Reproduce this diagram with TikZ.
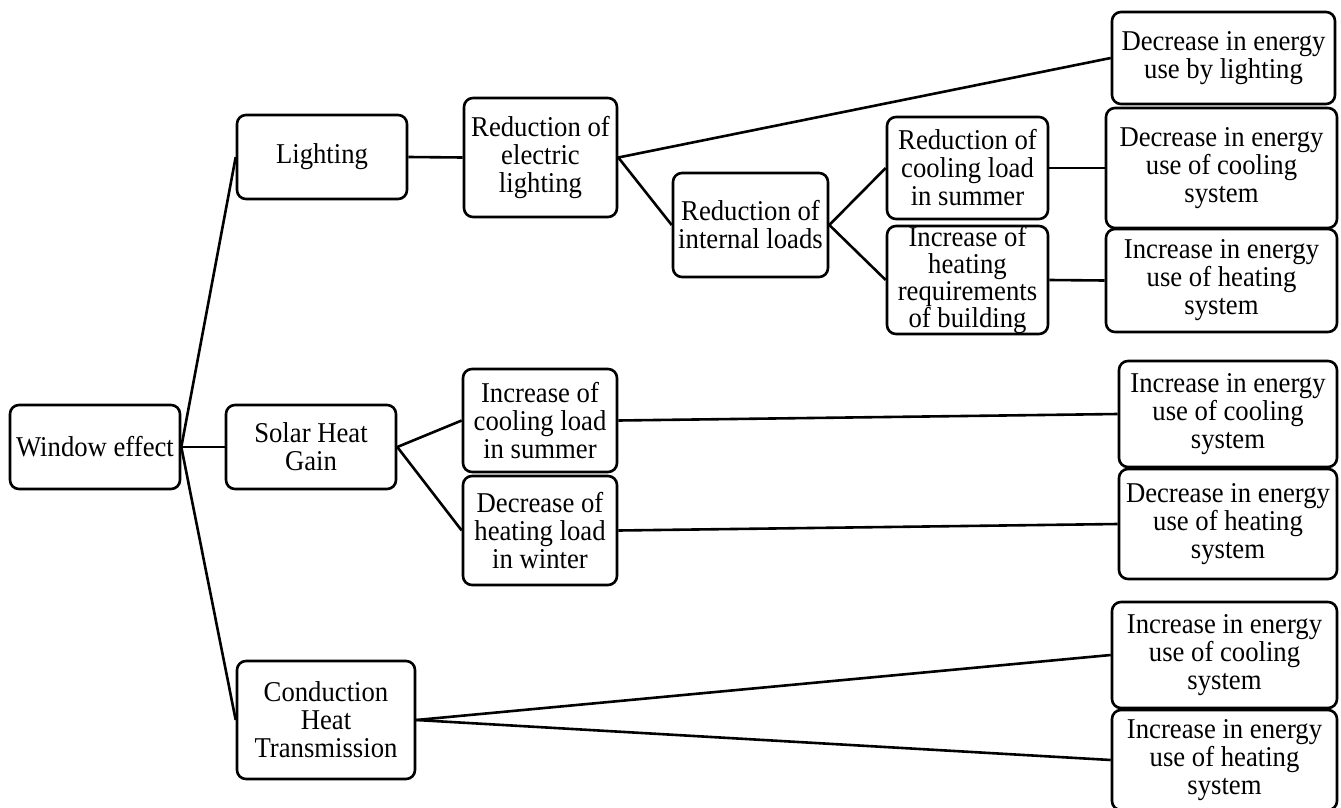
\documentclass[tikz,border=0pt]{standalone}
\usepackage{fontspec}
\setmainfont{Liberation Serif}[FakeStretch=0.93]
\begin{document}
\begin{tikzpicture}[x=1pt,y=-1pt,
  box/.style={draw=black, line width=2.6pt, rounded corners=9pt, align=center, inner sep=0pt,
    font=\fontsize{28.7}{28}\selectfont},
  link/.style={draw=black, line width=2.6pt}]
\useasboundingbox (0,0) rectangle (1341,808);
% level 0/1
\node[box, minimum width=170, minimum height=84] (we) at (95,447) {Window effect};
\node[box, minimum width=170, minimum height=84] (light) at (322,157) {Lighting};
\node[box, minimum width=170, minimum height=84] (solar) at (311,447) {Solar Heat\\Gain};
\node[box, minimum width=178, minimum height=118] (cond) at (326,720) {Conduction\\Heat\\Transmission};
% lighting branch
\node[box, minimum width=153, minimum height=119] (elec) at (540.5,157.5) {Reduction of\\electric\\lighting};
\node[box, minimum width=155, minimum height=104] (intl) at (750.5,225) {Reduction of\\internal loads};
\node[box, minimum width=161, minimum height=102] (rcool) at (967.5,168) {Reduction of\\cooling load\\in summer};
\node[box, minimum width=161, minimum height=108, font=\fontsize{28.7}{27}\selectfont] (iheat) at (967.5,280) {Increase of\\heating\\requirements\\of building};
\node[box, minimum width=223, minimum height=92] (dlight) at (1223.5,58) {Decrease in energy\\use by lighting};
\node[box, minimum width=231, minimum height=120] (dcool) at (1221.5,168) {Decrease in energy\\use of cooling\\system};
\node[box, minimum width=231, minimum height=103] (iheatE) at (1221.5,280.5) {Increase in energy\\use of heating\\system};
% solar branch
\node[box, minimum width=154, minimum height=103] (icool) at (540,420.5) {Increase of\\cooling load\\in summer};
\node[box, minimum width=154, minimum height=109] (dheat) at (540,530.5) {Decrease of\\heating load\\in winter};
\node[box, minimum width=218, minimum height=106] (icoolB) at (1228,414) {Increase in energy\\use of cooling\\system};
\node[box, minimum width=218, minimum height=110] (dheatB) at (1228,524) {Decrease in energy\\use of heating\\system};
% conduction branch
\node[box, minimum width=225, minimum height=106] (icoolC) at (1224.5,655) {Increase in energy\\use of cooling\\system};
\node[box, minimum width=225, minimum height=100] (iheatC) at (1224.5,760) {Increase in energy\\use of heating\\system};
% connectors
\draw[link] (we.east) -- (light.west);
\draw[link] (we.east) -- (solar.west);
\draw[link] (we.east) -- (cond.west);
\draw[link] (light.east) -- (elec.west);
\draw[link] (elec.east) -- (dlight.west);
\draw[link] (elec.east) -- (intl.west);
\draw[link] (intl.east) -- (rcool.west);
\draw[link] (intl.east) -- (iheat.west);
\draw[link] (rcool.east) -- (dcool.west);
\draw[link] (iheat.east) -- (iheatE.west);
\draw[link] (solar.east) -- (icool.west);
\draw[link] (solar.east) -- (dheat.west);
\draw[link] (icool.east) -- (icoolB.west);
\draw[link] (dheat.east) -- (dheatB.west);
\draw[link] (cond.east) -- (icoolC.west);
\draw[link] (cond.east) -- (iheatC.west);
\end{tikzpicture}
\end{document}
